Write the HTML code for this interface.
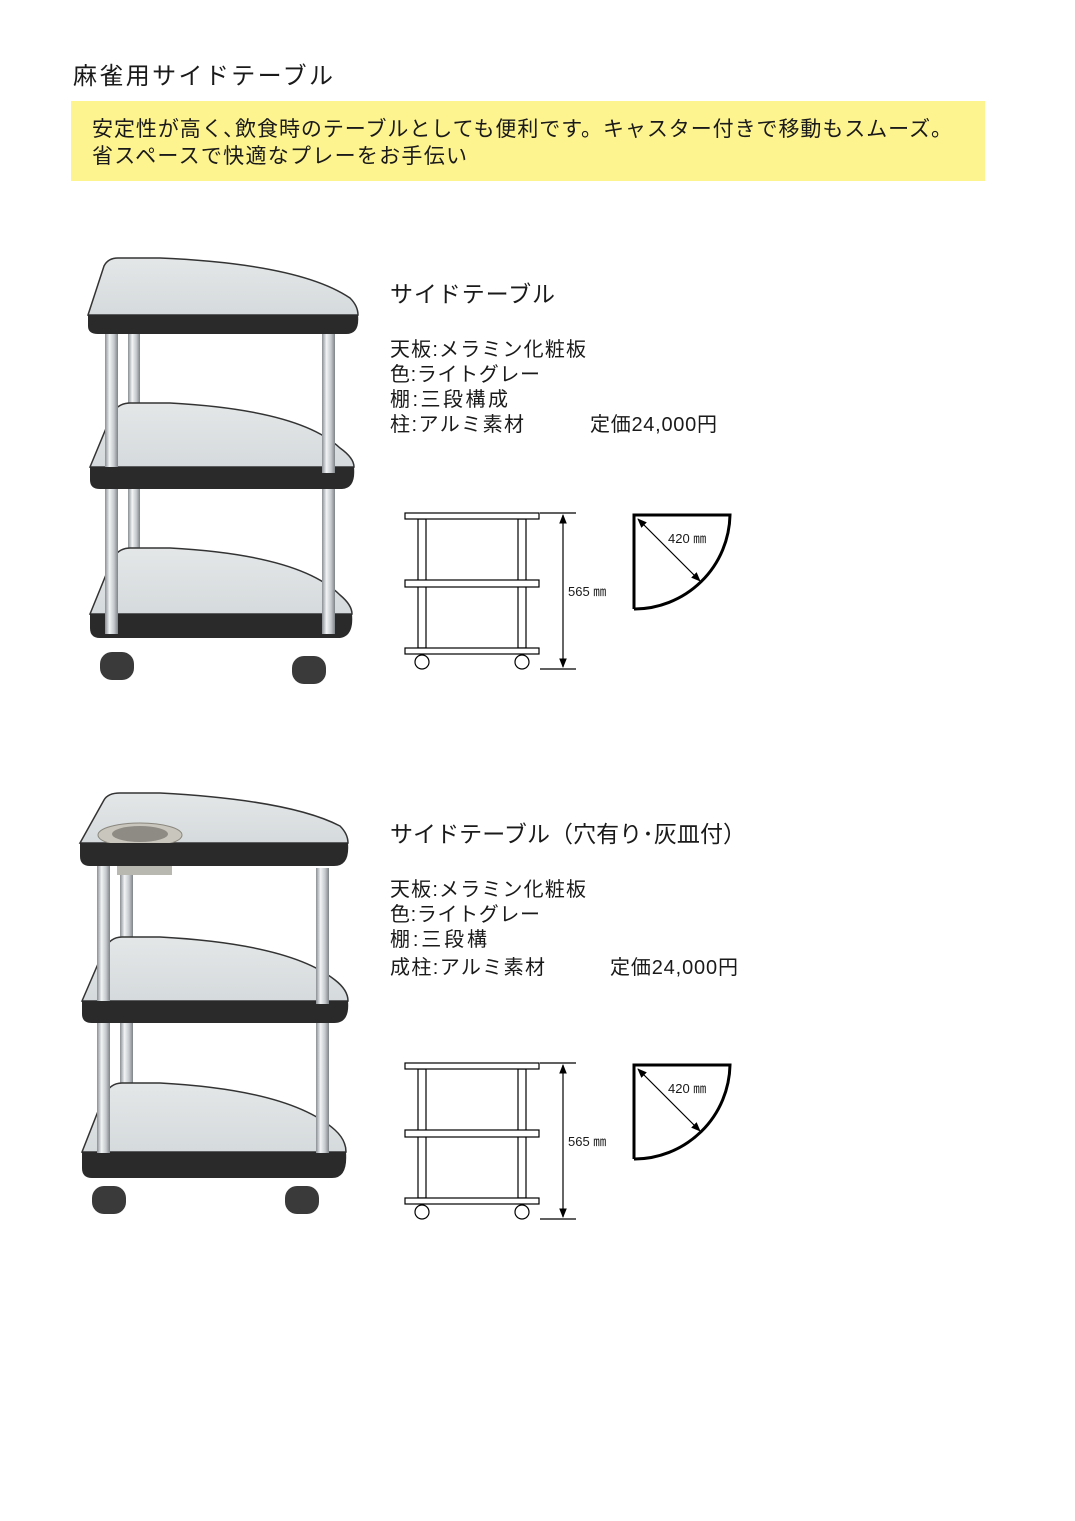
<!DOCTYPE html>
<html><head><meta charset="utf-8"><style>
html,body{margin:0;padding:0;background:#fff}
svg{display:block}
text{font-family:"Liberation Sans","Noto Sans CJK JP",sans-serif;fill:#1a1a1a}
</style></head><body>
<svg width="1075" height="1521" viewBox="0 0 1075 1521" xmlns="http://www.w3.org/2000/svg">
<defs>
<linearGradient id="pole" x1="0" x2="1" y1="0" y2="0">
<stop offset="0" stop-color="#8a8f94"/><stop offset="0.35" stop-color="#f2f4f5"/><stop offset="0.7" stop-color="#c4c8cc"/><stop offset="1" stop-color="#7e8388"/></linearGradient>
<linearGradient id="surf" x1="0" x2="0" y1="0" y2="1">
<stop offset="0" stop-color="#e4e7e8"/><stop offset="1" stop-color="#d5dadc"/></linearGradient>
<marker id="ah" viewBox="0 0 10 10" refX="9" refY="5" markerWidth="8" markerHeight="8" orient="auto-start-reverse"><path d="M0,1 L10,5 L0,9 Z" fill="#000"/></marker>
</defs>

<text x="73" y="84" font-size="24" textLength="260">麻雀用サイドテーブル</text>
<rect x="71" y="101" width="914" height="80" fill="#fdf38f"/>
<text x="92" y="136" font-size="21" textLength="860">安定性が高く､飲食時のテーブルとしても便利です。キャスター付きで移動もスムーズ。</text>
<text x="92" y="163" font-size="21" textLength="375">省スペースで快適なプレーをお手伝い</text>

<!-- Table 1 -->
<g>
<!-- back poles -->
<rect x="128" y="330" width="12" height="80" fill="url(#pole)"/>
<rect x="128" y="485" width="12" height="130" fill="url(#pole)"/>
<!-- bottom shelf -->
<path d="M90,614 L112,560 Q118,548 130,548 L170,548 Q300,555 340,595 Q352,605 352,614 Z" fill="url(#surf)" stroke="#333" stroke-width="1.5"/>
<path d="M90,614 L352,614 Q354,636 340,638 L100,638 Q90,638 90,628 Z" fill="#2a2a2a"/>
<!-- middle shelf -->
<path d="M90,467 L112,414 Q118,403 130,403 L170,403 Q300,410 340,448 Q354,458 354,467 Z" fill="url(#surf)" stroke="#333" stroke-width="1.5"/>
<path d="M90,467 L354,467 Q356,488 342,489 L100,489 Q90,489 90,480 Z" fill="#2a2a2a"/>
<!-- front poles -->
<rect x="105" y="333" width="13" height="134" fill="url(#pole)"/>
<rect x="105" y="489" width="13" height="145" fill="url(#pole)"/>
<rect x="322" y="333" width="13" height="140" fill="url(#pole)"/>
<rect x="322" y="489" width="13" height="145" fill="url(#pole)"/>
<!-- top shelf -->
<path d="M88,315 L104,266 Q108,258 118,258 L160,258 Q300,264 350,298 Q358,306 358,315 Z" fill="url(#surf)" stroke="#333" stroke-width="1.5"/>
<path d="M88,315 L358,315 Q360,334 346,334 L98,334 Q88,334 88,326 Z" fill="#2a2a2a"/>
<!-- wheels -->
<rect x="100" y="652" width="34" height="28" rx="12" fill="#3a3a3a"/>
<rect x="292" y="656" width="34" height="28" rx="12" fill="#3a3a3a"/>
</g>

<!-- Table 2 -->
<g>
<rect x="120" y="865" width="13" height="75" fill="url(#pole)"/>
<rect x="120" y="1023" width="13" height="90" fill="url(#pole)"/>
<path d="M82,1152 L104,1096 Q110,1083 122,1083 L160,1083 Q290,1090 335,1130 Q346,1140 346,1152 Z" fill="url(#surf)" stroke="#333" stroke-width="1.5"/>
<path d="M82,1152 L346,1152 Q348,1178 332,1178 L92,1178 Q82,1178 82,1168 Z" fill="#2a2a2a"/>
<path d="M82,1001 L104,950 Q110,937 122,937 L160,937 Q290,944 335,980 Q348,990 348,1001 Z" fill="url(#surf)" stroke="#333" stroke-width="1.5"/>
<path d="M82,1001 L348,1001 Q350,1023 334,1023 L92,1023 Q82,1023 82,1014 Z" fill="#2a2a2a"/>
<rect x="97" y="865" width="13" height="136" fill="url(#pole)"/>
<rect x="97" y="1023" width="13" height="130" fill="url(#pole)"/>
<rect x="316" y="868" width="13" height="136" fill="url(#pole)"/>
<rect x="316" y="1023" width="13" height="130" fill="url(#pole)"/>
<rect x="117" y="865" width="55" height="10" fill="#b8b8b0"/>
<path d="M80,843 L104,800 Q108,793 120,793 L160,793 Q290,800 340,826 Q348,834 348,843 Z" fill="url(#surf)" stroke="#333" stroke-width="1.5"/>
<ellipse cx="140" cy="835" rx="42" ry="12" fill="#c9c6bd" stroke="#8a877e"/>
<ellipse cx="140" cy="834" rx="28" ry="8" fill="#8e8b84"/>
<path d="M80,843 L348,843 Q350,866 334,866 L90,866 Q80,866 80,856 Z" fill="#2a2a2a"/>
<rect x="92" y="1186" width="34" height="28" rx="12" fill="#3a3a3a"/>
<rect x="285" y="1186" width="34" height="28" rx="12" fill="#3a3a3a"/>
</g>

<!-- Text block 1 -->
<text x="390" y="302" font-size="23" textLength="165">サイドテーブル</text>
<text x="390" y="356" font-size="20" textLength="196">天板:メラミン化粧板</text>
<text x="390" y="381" font-size="20" textLength="150">色:ライトグレー</text>
<text x="390" y="406" font-size="20" textLength="118">棚:三段構成</text>
<text x="390" y="431" font-size="20" textLength="134">柱:アルミ素材</text>
<text x="590" y="431" font-size="20" textLength="127">定価24,000円</text>

<!-- Text block 2 -->
<text x="390" y="842" font-size="23" textLength="356">サイドテーブル（穴有り･灰皿付）</text>
<text x="390" y="896" font-size="20" textLength="196">天板:メラミン化粧板</text>
<text x="390" y="921" font-size="20" textLength="150">色:ライトグレー</text>
<text x="390" y="946" font-size="20" textLength="97">棚:三段構</text>
<text x="390" y="974" font-size="20" textLength="155">成柱:アルミ素材</text>
<text x="610" y="974" font-size="20" textLength="128">定価24,000円</text>

<!-- Diagram 1 -->
<g fill="#fff" stroke="#000" stroke-width="1.2">
<rect x="418" y="519" width="8" height="129"/>
<rect x="518" y="519" width="8" height="129"/>
<rect x="405" y="513" width="134" height="6"/>
<rect x="405" y="580" width="134" height="7"/>
<rect x="405" y="648" width="134" height="6"/>
<circle cx="422" cy="662" r="7"/>
<circle cx="522" cy="662" r="7"/>
<line x1="540" y1="513" x2="576" y2="513"/>
<line x1="540" y1="669" x2="576" y2="669"/>
<line x1="563" y1="515" x2="563" y2="667" marker-start="url(#ah)" marker-end="url(#ah)"/>
<path d="M634,609 L634,515 L730,515 A96,96 0 0 1 634,609" stroke-width="3"/>
<line x1="638" y1="519" x2="700" y2="581" marker-start="url(#ah)" marker-end="url(#ah)"/>
</g>
<text x="568" y="596" font-size="13">565 ㎜</text>
<text x="668" y="543" font-size="13">420 ㎜</text>

<!-- Diagram 2 -->
<g fill="#fff" stroke="#000" stroke-width="1.2">
<rect x="418" y="1069" width="8" height="129"/>
<rect x="518" y="1069" width="8" height="129"/>
<rect x="405" y="1063" width="134" height="6"/>
<rect x="405" y="1130" width="134" height="7"/>
<rect x="405" y="1198" width="134" height="6"/>
<circle cx="422" cy="1212" r="7"/>
<circle cx="522" cy="1212" r="7"/>
<line x1="540" y1="1063" x2="576" y2="1063"/>
<line x1="540" y1="1219" x2="576" y2="1219"/>
<line x1="563" y1="1065" x2="563" y2="1217" marker-start="url(#ah)" marker-end="url(#ah)"/>
<path d="M634,1159 L634,1065 L730,1065 A96,96 0 0 1 634,1159" stroke-width="3"/>
<line x1="638" y1="1069" x2="700" y2="1131" marker-start="url(#ah)" marker-end="url(#ah)"/>
</g>
<text x="568" y="1146" font-size="13">565 ㎜</text>
<text x="668" y="1093" font-size="13">420 ㎜</text>
</svg>
</body></html>
